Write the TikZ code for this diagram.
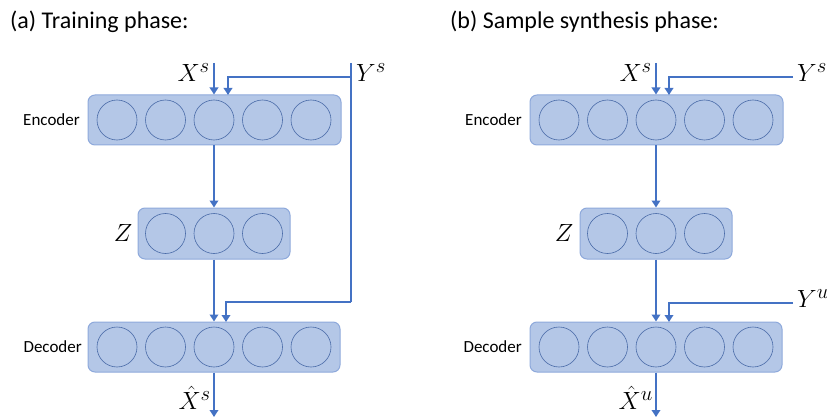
\documentclass[tikz,border=0pt]{standalone}
\usepackage{fontspec}
\setmainfont{Carlito}
\usetikzlibrary{arrows.meta,calc}
\definecolor{boxfill}{HTML}{B4C7E7}
\definecolor{boxedge}{HTML}{8EA9DB}
\definecolor{circedge}{HTML}{4A6BA8}
\definecolor{arrowblue}{HTML}{4472C4}
\tikzset{
  layerbox/.style={draw=boxedge,fill=boxfill,line width=1pt,rounded corners=7pt,minimum height=50pt,inner sep=0pt},
  neuron/.style={circle,draw=circedge,fill=boxfill,line width=0.6pt,minimum size=40pt,inner sep=0pt},
  flow/.style={draw=arrowblue,line width=2.6pt,-{Triangle[length=7pt,width=8.5pt]}},
  flowline/.style={draw=arrowblue,line width=2.6pt},
  sidelabel/.style={font=\fontsize{17}{20}\selectfont,anchor=east,inner sep=0pt},
  mathlabel/.style={font=\fontsize{28}{32}\selectfont,inner sep=0pt},
  titlelabel/.style={font=\fontsize{24}{28}\selectfont,anchor=base west,inner sep=0pt}
}
\begin{document}
\begin{tikzpicture}[x=1pt,y=-1pt]
\useasboundingbox (0,0) rectangle (827,417);
% titles
\node[titlelabel] (ta) at (10,29) {(a) Training phase:};
\node[titlelabel] (tb) at (450,29) {(b) Sample synthesis phase:};

% ---------- Panel (a) ----------
\node[layerbox,minimum width=253pt] (encA) at (214.5,120) {};
\node[layerbox,minimum width=152pt,minimum height=51pt] (zA) at (214,233.5) {};
\node[layerbox,minimum width=252pt] (decA) at (214,347) {};
\foreach \i in {-2,...,2} {
  \node[neuron] (eA\i) at ({214+\i*48.5},120) {};
  \node[neuron] (dA\i) at ({214+\i*48.5},347) {};
}
\foreach \i in {-1,0,1} {
  \node[neuron] (zA\i) at ({214+\i*48.5},233.5) {};
}
\node[sidelabel] (encAl) at (80,120) {Encoder};
\node[sidelabel] (decAl) at (82,347) {Decoder};
\node[mathlabel] (zAl) at (123,233) {$Z$};
\node[mathlabel,anchor=east] (xsA) at (210,73) {$X^{s}$};
\node[mathlabel,anchor=west] (ysA) at (356,73) {$Y^{s}$};
\node[mathlabel,anchor=east] (xhA) at (211,398) {$\hat{X}^{s}$};

\coordinate (xinA) at (214,63);
\coordinate (ytopA) at (351,63);
\coordinate (ybranchA) at (351,77);
\coordinate (ybotA) at (351,302);
\coordinate (outA) at (214,417);

\draw[flow] (xinA) -- (xinA |- encA.north);
\draw[flowline] (ytopA) -- (ybotA);
\draw[flow] (ybranchA) -- (228,77) -- (228,95);
\draw[flow] (ybotA) -- (226,302) -- (226,322);
\draw[flow] (encA.south -| xinA) -- (zA.north -| xinA);
\draw[flow] (zA.south -| xinA) -- (decA.north -| xinA);
\draw[flow] (decA.south -| xinA) -- (outA);

% ---------- Panel (b) ----------
\node[layerbox,minimum width=253pt] (encB) at (656.5,120) {};
\node[layerbox,minimum width=152pt,minimum height=51pt] (zB) at (656,233.5) {};
\node[layerbox,minimum width=252pt] (decB) at (656,347) {};
\foreach \i in {-2,...,2} {
  \node[neuron] (eB\i) at ({656+\i*48.5},120) {};
  \node[neuron] (dB\i) at ({656+\i*48.5},347) {};
}
\foreach \i in {-1,0,1} {
  \node[neuron] (zB\i) at ({656+\i*48.5},233.5) {};
}
\node[sidelabel] (encBl) at (522,120) {Encoder};
\node[sidelabel] (decBl) at (522,347) {Decoder};
\node[mathlabel] (zBl) at (564,233) {$Z$};
\node[mathlabel,anchor=east] (xsB) at (652,73) {$X^{s}$};
\node[mathlabel,anchor=west] (ysB) at (797,73) {$Y^{s}$};
\node[mathlabel,anchor=west] (yuB) at (797,299) {$Y^{u}$};
\node[mathlabel,anchor=east] (xhB) at (653,398) {$\hat{X}^{u}$};

\coordinate (xinB) at (656,63);
\coordinate (ysendB) at (793,77);
\coordinate (yuendB) at (793,303);
\coordinate (outB) at (656,417);

\draw[flow] (xinB) -- (xinB |- encB.north);
\draw[flow] (ysendB) -- (669,77) -- (669,95);
\draw[flow] (yuendB) -- (669,303) -- (669,322);
\draw[flow] (encB.south -| xinB) -- (zB.north -| xinB);
\draw[flow] (zB.south -| xinB) -- (decB.north -| xinB);
\draw[flow] (decB.south -| xinB) -- (outB);
\end{tikzpicture}
\end{document}
